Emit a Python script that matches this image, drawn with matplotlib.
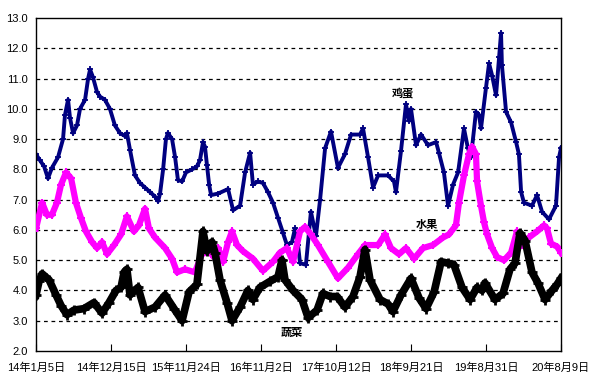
import numpy as np
import matplotlib.pyplot as plt

plt.rcParams['font.family'] = ['Liberation Sans', 'Noto Sans CJK SC', 'DejaVu Sans']

# days counted from 2014-01-05
egg_day = [0, 18, 37, 55, 73, 101, 124, 133, 147, 156, 170, 188, 202, 225, 239, 248, 261, 280,
           294, 316, 339, 362, 385, 408, 417, 431, 454, 477, 500, 523, 546, 560, 569, 583, 596,
           605, 624, 638, 651, 670, 688, 716, 738, 752, 766, 775, 784, 794, 803, 835, 881, 904,
           936, 959, 982, 995, 1018, 1041, 1064, 1087, 1110, 1133, 1151, 1174, 1188, 1202, 1211,
           1238, 1261, 1284, 1303, 1326, 1353, 1385, 1417, 1445, 1486, 1500, 1523, 1546, 1569,
           1615, 1642, 1651, 1674, 1697, 1711, 1720, 1743, 1766, 1798, 1835, 1848, 1871, 1890,
           1913, 1936, 1963, 1981, 1995, 2018, 2032, 2041, 2064, 2078, 2092, 2110, 2124, 2133,
           2137, 2156, 2179, 2202, 2215, 2225, 2238, 2275, 2298, 2321, 2353, 2385, 2399, 2408]
egg_val = [8.5, 8.3, 8.1, 7.7, 8.05, 8.4, 9.0, 9.8, 10.3, 9.7, 9.2, 9.45, 10.0, 10.3, 11.0, 11.3,
           11.05, 10.55, 10.4, 10.3, 10.0, 9.45, 9.2, 9.1, 9.2, 8.65, 7.8, 7.55, 7.4, 7.25, 7.1,
           6.95, 7.2, 8.0, 9.0, 9.2, 9.0, 8.4, 7.65, 7.6, 7.9, 8.0, 8.1, 8.3, 8.9, 8.75, 8.15,
           7.5, 7.15, 7.2, 7.35, 6.65, 6.8, 7.9, 8.55, 7.5, 7.6, 7.55, 7.25, 6.9, 6.4, 5.9, 5.5,
           5.6, 6.05, 5.5, 4.9, 4.85, 6.6, 5.8, 7.0, 8.7, 9.25, 8.05, 8.5, 9.15, 9.15, 9.35, 8.4,
           7.4, 7.8, 7.8, 7.6, 7.25, 8.6, 10.15, 9.6, 10.0, 8.8, 9.15, 8.8, 8.9, 8.55, 7.9, 6.8,
           7.5, 7.9, 9.35, 8.7, 8.4, 9.9, 9.8, 9.35, 10.7, 11.5, 11.1, 10.45, 11.7, 12.5, 11.45,
           9.9, 9.55, 8.9, 8.5, 7.25, 6.9, 6.8, 7.15, 6.6, 6.35, 6.8, 8.4, 8.7]

fruit_day = [0, 28, 50, 73, 96, 115, 138, 161, 183, 206, 229, 257, 280, 303, 326, 358, 390, 417,
             449, 472, 500, 518, 546, 592, 624, 647, 683, 729, 761, 794, 816, 835, 858, 881, 899,
             922, 949, 995, 1041, 1087, 1119, 1151, 1179, 1211, 1234, 1261, 1293, 1339, 1385,
             1431, 1477, 1509, 1569, 1601, 1628, 1665, 1697, 1734, 1775, 1821, 1867, 1894, 1926,
             1940, 1963, 1986, 2000, 2018, 2023, 2041, 2055, 2069, 2092, 2115, 2147, 2179, 2206,
             2229, 2261, 2298, 2330, 2344, 2362, 2390, 2408]
fruit_val = [6.05, 6.9, 6.5, 6.5, 6.9, 7.5, 7.9, 7.7, 6.9, 6.4, 5.95, 5.6, 5.4, 5.6, 5.2, 5.5,
             5.85, 6.45, 5.95, 6.15, 6.7, 6.05, 5.75, 5.4, 5.05, 4.6, 4.7, 4.6, 5.2, 5.3, 5.1,
             5.4, 4.95, 5.6, 5.95, 5.5, 5.3, 5.05, 4.65, 4.95, 5.25, 5.4, 4.95, 5.95, 6.1, 5.85,
             5.5, 4.95, 4.4, 4.75, 5.2, 5.5, 5.5, 5.85, 5.4, 5.2, 5.4, 5.05, 5.4, 5.5, 5.75,
             5.85, 6.15, 6.9, 7.8, 8.5, 8.75, 8.5, 7.6, 6.8, 6.25, 5.85, 5.4, 5.1, 5.0, 5.25,
             5.95, 5.5, 5.75, 5.95, 6.15, 6.05, 5.55, 5.45, 5.25]

veg_day = [0, 14, 28, 60, 92, 115, 142, 174, 220, 266, 303, 335, 367, 390, 404, 417, 431, 468,
           500, 546, 592, 633, 670, 702, 738, 766, 784, 807, 821, 844, 876, 899, 936, 972, 995,
           1027, 1073, 1110, 1128, 1142, 1179, 1220, 1248, 1289, 1316, 1349, 1381, 1417, 1454,
           1486, 1509, 1532, 1578, 1615, 1637, 1674, 1720, 1757, 1789, 1826, 1858, 1890, 1917,
           1954, 1991, 2023, 2046, 2059, 2105, 2142, 2174, 2197, 2220, 2243, 2275, 2302, 2335,
           2367, 2390, 2408]
veg_val = [3.85, 4.3, 4.55, 4.35, 3.85, 3.5, 3.2, 3.35, 3.4, 3.6, 3.25, 3.6, 4.0, 4.1, 4.6, 4.7,
           3.85, 4.1, 3.3, 3.45, 3.85, 3.4, 3.0, 3.95, 4.2, 5.95, 5.3, 5.6, 5.25, 4.35, 3.6, 3.0,
           3.45, 4.0, 3.7, 4.1, 4.3, 4.45, 5.0, 4.35, 4.0, 3.7, 3.1, 3.35, 3.9, 3.8, 3.8, 3.45,
           3.8, 4.45, 5.35, 4.35, 3.7, 3.55, 3.3, 3.85, 4.4, 3.75, 3.4, 3.95, 4.95, 4.9, 4.85,
           4.1, 3.7, 4.1, 4.0, 4.25, 3.7, 3.9, 4.7, 4.9, 5.9, 5.65, 4.6, 4.25, 3.7, 4.0, 4.2, 4.4]

tick_labels = ['14年1月5日', '14年12月15日', '15年11月24日', '16年11月2日',
               '17年10月12日', '18年9月21日', '19年8月31日', '20年8月9日']

fig = plt.figure(figsize=(6.12, 3.92), dpi=100)
ax = fig.add_axes([36 / 612, 41 / 392, 525 / 612, 333 / 392])

ax.plot(fruit_day, fruit_val, color='#ff00ff', lw=4.5, marker='+', ms=6, mew=1.5, zorder=3)
ax.plot(veg_day, veg_val, color='black', lw=5.5, marker='+', ms=7, mew=2, zorder=4)
ax.plot(egg_day, egg_val, color='#000080', lw=2.8, marker='+', ms=5, mew=1.3, zorder=2)

ax.set_xlim(0, 2408)
ax.set_ylim(2, 13)
ax.set_xticks(np.arange(0, 2409, 344))
ax.set_xticklabels(tick_labels, fontsize=8)
ax.set_yticks(np.arange(2, 13.1, 1))
ax.set_yticklabels(['%.1f' % v for v in np.arange(2, 13.1, 1)], fontsize=8)
ax.tick_params(axis='x', direction='in', length=5, pad=8)
ax.tick_params(axis='y', length=0, pad=6)

for v in range(3, 13):
    ax.axhline(v, color='black', lw=0.9, ls=(0, (3, 3)), zorder=1)

for s in ax.spines.values():
    s.set_linewidth(1)

lab = dict(fontsize=8, fontweight='bold', family=['Noto Sans CJK SC'], ha='center', va='center')
ax.text((403 - 36) / 525 * 2408, 2 + (351 - 93) / 30.25, '鸡蛋', **lab)
ax.text((427 - 36) / 525 * 2408, 2 + (351 - 225) / 30.25, '水果', **lab)
ax.text((292 - 36) / 525 * 2408, 2 + (351 - 332) / 30.25, '蔬菜', **lab)

fig.savefig('out.png', dpi=100)
